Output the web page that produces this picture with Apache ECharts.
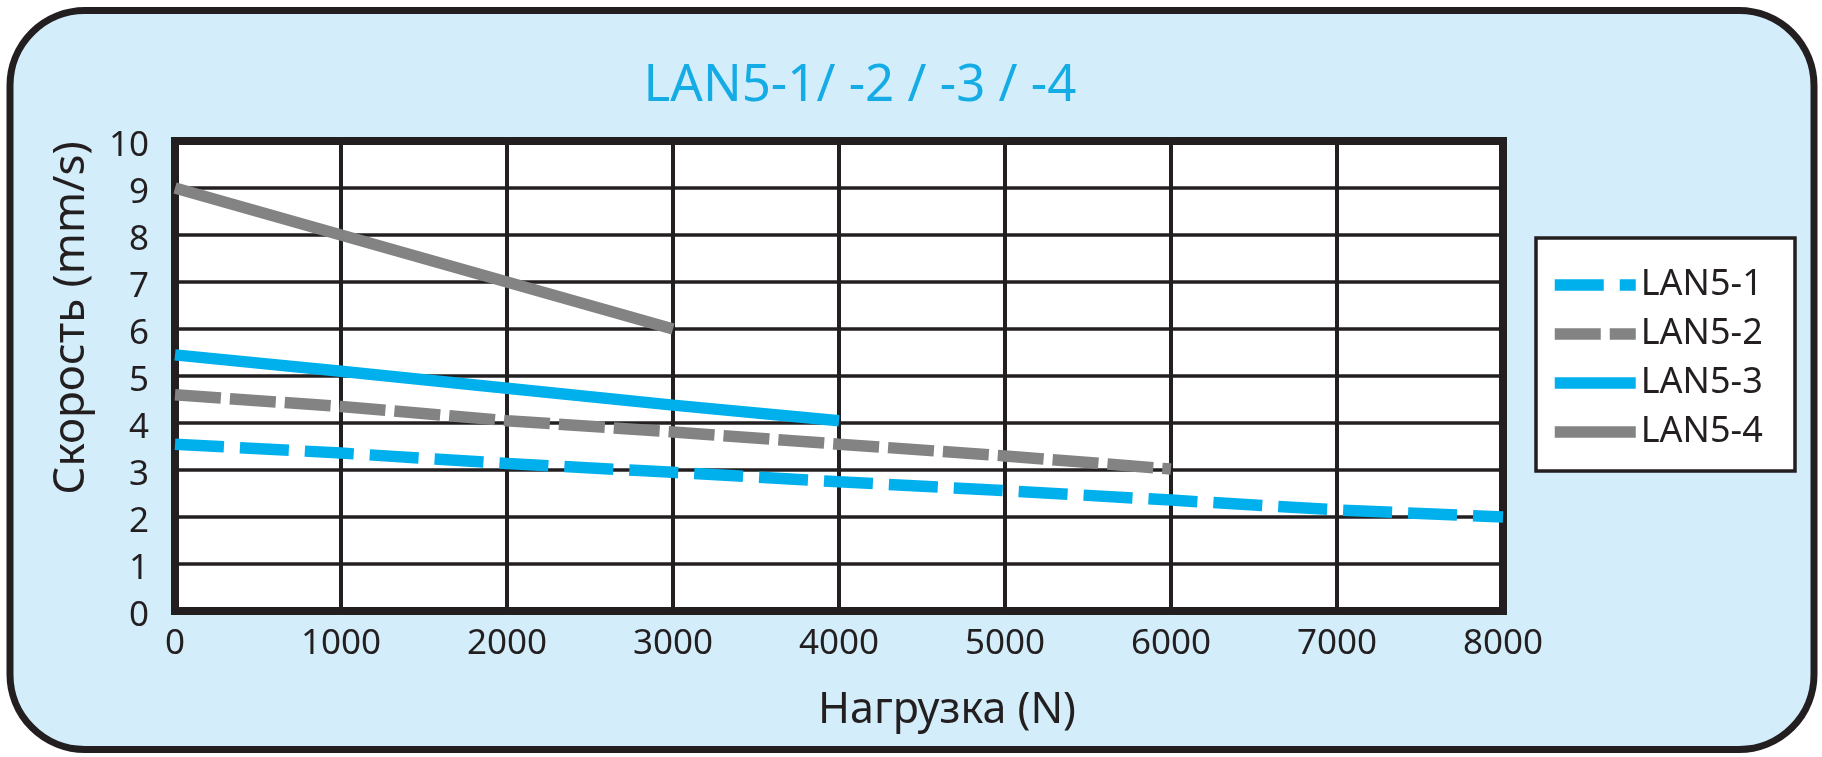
<!DOCTYPE html>
<html>
<head>
<meta charset="utf-8">
<script src="https://cdn.jsdelivr.net/npm/echarts@6/dist/echarts.min.js"></script>
<style>
  html, body { margin: 0; padding: 0; background: #fff; }
  #chart { width: 1822px; height: 757px; }
</style>
</head>
<body>
<div id="chart"></div>
<script>
// нагрузка (N) по оси X
var loads = [0, 1000, 2000, 3000, 4000, 5000, 6000, 7000, 8000];
// скорость (mm/s) по сериям, читано с картинки
var lan51 = [3.55, 3.36, 3.14, 2.95, 2.75, 2.56, 2.36, 2.15, 2.0];
var lan52 = [4.6, 4.35, 4.05, 3.81, 3.55, 3.3, 3.02];
var lan53 = [5.45, 5.1, 4.74, 4.38, 4.05];
var lan54 = [9, 8, 7, 6];
var seriesNames = ['LAN5-1', 'LAN5-2', 'LAN5-3', 'LAN5-4'];

var blue = '#00b0ec';
var gray = '#838383';
var ink = '#231f20';
var font = 'Noto Sans';

function pairs(vals) {
    var out = [];
    for (var i = 0; i < vals.length; i++) {
        out.push([loads[i], vals[i]]);
    }
    return out;
}

function lineSeries(name, vals, color, dash) {
    return {
        name: name,
        type: 'line',
        data: pairs(vals),
        symbol: 'none',
        z: 3,
        lineStyle: { color: color, width: 11.5, type: dash, cap: 'butt' },
        itemStyle: { color: color }
    };
}

var myChart = echarts.init(document.getElementById('chart'));
var options = {
    backgroundColor: '#fff',
    animation: false,
    title: {
        text: 'LAN5-1/ -2 / -3 / -4',
        left: 855,
        top: 51,
        textAlign: 'center',
        textStyle: { color: '#15ace6', fontFamily: font, fontSize: 51, fontWeight: 'normal', lineHeight: 60 }
    },
    //рамка фона и рамка легенды
    graphic: [
        {
            type: 'rect',
            z: -10,
            shape: { x: 10, y: 10.5, width: 1804, height: 739, r: 75 },
            style: { fill: '#d3eefa', stroke: ink, lineWidth: 7 }
        },
        {
            type: 'rect',
            z: 1,
            shape: { x: 1536, y: 238, width: 259, height: 233 },
            style: { fill: '#fff', stroke: ink, lineWidth: 3.5 }
        }
    ],
    legend: {
        orient: 'vertical',
        left: 1549,
        top: 265,
        padding: 0,
        itemWidth: 81,
        itemHeight: 12,
        itemGap: 9,
        data: seriesNames,
        lineStyle: { width: 11.5 },
        itemStyle: { opacity: 0, borderWidth: 0 },
        textStyle: { color: ink, fontFamily: font, fontSize: 36, lineHeight: 40 }
    },
    grid: {
        left: 175,
        right: 319,
        top: 141,
        bottom: 146,
        show: true,
        backgroundColor: '#fff',
        borderColor: ink,
        borderWidth: 8
    },
    xAxis: {
        type: 'value',
        min: 0,
        max: 8000,
        interval: 1000,
        name: 'Нагрузка (N)',
        nameLocation: 'middle',
        nameGap: 78,
        nameTextStyle: { color: ink, fontFamily: font, fontSize: 43, padding: [0, 0, 0, 216] },
        axisLine: { show: false },
        axisTick: { show: false },
        axisLabel: { color: ink, fontFamily: font, fontSize: 35, margin: 16, formatter: function (v) { return String(v); } },
        splitLine: { show: true, lineStyle: { color: ink, width: 4 } }
    },
    yAxis: {
        type: 'value',
        min: 0,
        max: 10,
        interval: 1,
        name: 'Скорость (mm/s)',
        nameLocation: 'middle',
        nameGap: 82,
        nameTextStyle: { color: ink, fontFamily: font, fontSize: 44, padding: [0, 0, 0, 116] },
        axisLine: { show: false },
        axisTick: { show: false },
        // цифры чуть ниже линий, как в оригинале
        axisLabel: { color: ink, fontFamily: font, fontSize: 35, margin: 26, lineHeight: 10, verticalAlign: 'top',
            showMinLabel: true, showMaxLabel: true, hideOverlap: false },
        splitLine: { show: true, lineStyle: { color: ink, width: 3.5 } }
    },
    series: [
        lineSeries('LAN5-1', lan51, blue, [49, 16]),
        lineSeries('LAN5-2', lan52, gray, [46, 9]),
        lineSeries('LAN5-3', lan53, blue, 'solid'),
        lineSeries('LAN5-4', lan54, gray, 'solid')
    ]
};
myChart.setOption(options);
</script>
</body>
</html>
